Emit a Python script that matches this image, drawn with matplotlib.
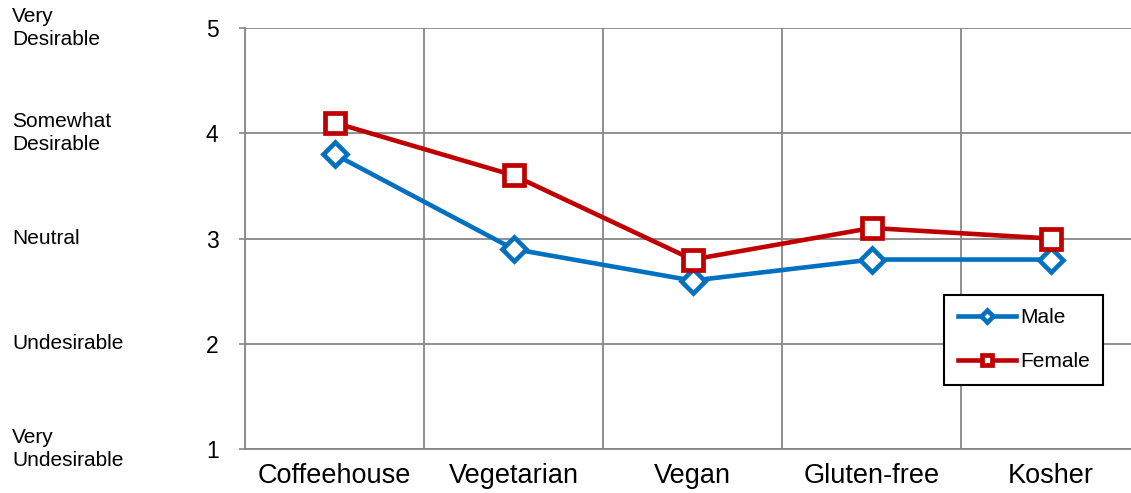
import matplotlib
matplotlib.use("Agg")
import matplotlib.pyplot as plt
import matplotlib.transforms as mtransforms

plt.rcParams['font.family'] = ['Liberation Sans', 'DejaVu Sans']

# chart data
categories = ['Coffeehouse', 'Vegetarian', 'Vegan', 'Gluten-free', 'Kosher']
male = [3.8, 2.9, 2.6, 2.8, 2.8]
female = [4.1, 3.6, 2.8, 3.1, 3.0]
y_ticks = [1, 2, 3, 4, 5]
y_names = ['Very\nUndesirable', 'Undesirable', 'Neutral',
           'Somewhat\nDesirable', 'Very\nDesirable']

blue = '#0070C0'
red = '#C00000'
grid_col = '#878787'

fig = plt.figure(figsize=(11.31, 4.93), dpi=100)
# plot area runs a little past the right edge, like the original
ax = fig.add_axes([245 / 1131, 44 / 493, 895 / 1131, 421 / 493])

x = list(range(len(categories)))
ax.plot(x, male, color=blue, lw=3.3, marker='D', ms=12, mfc='white',
        mec=blue, mew=3.3, label='Male', zorder=3)
ax.plot(x, female, color=red, lw=3.3, marker='s', ms=14, mfc='white',
        mec=red, mew=3.4, label='Female', zorder=3)

ax.set_xlim(-0.5, len(categories) - 0.5)
ax.set_ylim(1, 5)
ax.set_yticks(y_ticks)
ax.set_xticks(x)
ax.set_xticklabels(categories, fontsize=19.5)
ax.set_xticks([i - 0.5 for i in range(len(categories) + 1)], minor=True)
ax.tick_params(axis='x', which='both', length=0, pad=10)
ax.tick_params(axis='y', labelsize=16.5, length=4, width=1.2,
               color=grid_col, pad=15)

ax.grid(True, axis='y', color=grid_col, lw=1.3)
ax.grid(True, axis='x', which='minor', color=grid_col, lw=1.3)
ax.set_axisbelow(True)
for side in ['top', 'right']:
    ax.spines[side].set_visible(False)
for side in ['left', 'bottom']:
    ax.spines[side].set_color(grid_col)
    ax.spines[side].set_linewidth(1.3)

# text descriptions of the rating scale on the far left
trans = mtransforms.blended_transform_factory(fig.transFigure, ax.transData)
for yv, name in zip(y_ticks, y_names):
    ax.text(12 / 1131, yv, name, transform=trans, ha='left', va='center',
            fontsize=15, linespacing=1.3, clip_on=False)

leg = ax.legend(loc='lower left', bbox_to_anchor=(0.781, 0.152),
                borderaxespad=0, fontsize=15, markerscale=0.55,
                handlelength=2.8, handletextpad=0.2, labelspacing=1.2,
                borderpad=0.65, fancybox=False, framealpha=1)
leg.get_frame().set_edgecolor('black')
leg.get_frame().set_linewidth(1.5)

fig.savefig('out.png', dpi=100)
